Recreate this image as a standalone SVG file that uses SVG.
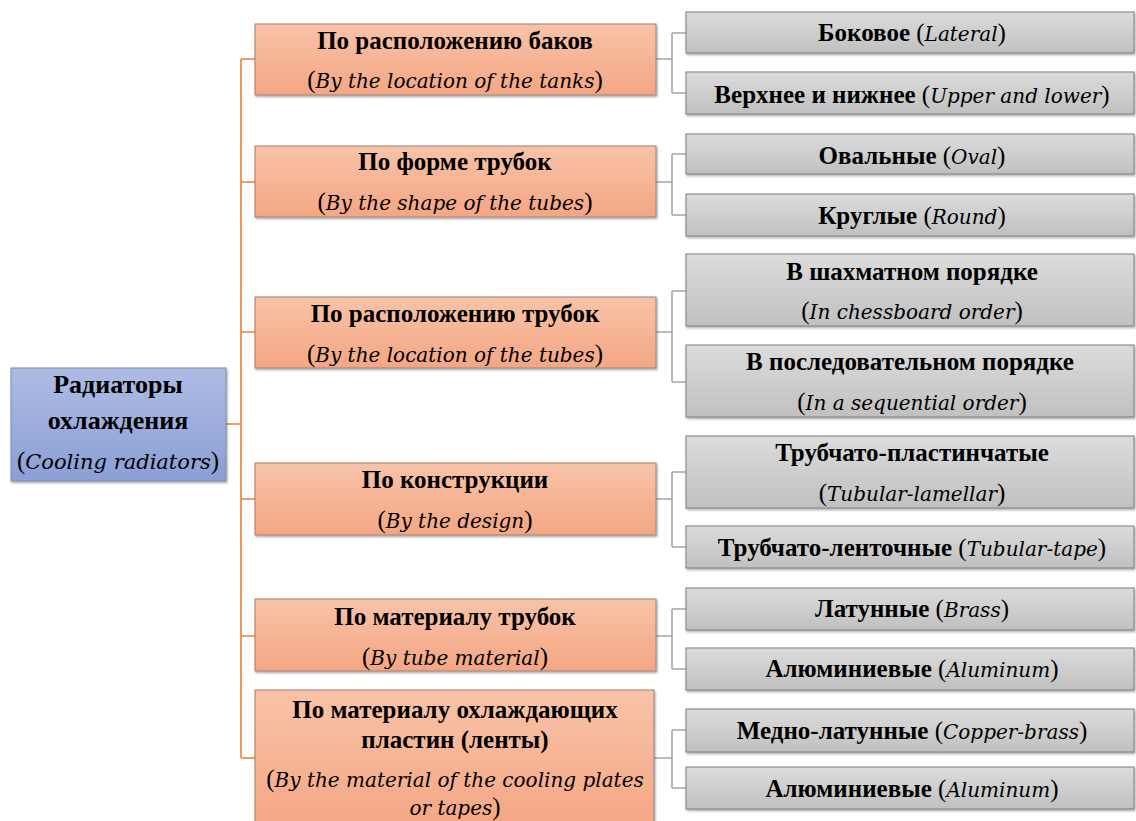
<svg xmlns="http://www.w3.org/2000/svg" width="1136" height="821" viewBox="0 0 1136 821">
<defs>
<linearGradient id="gBlue" x1="0" y1="0" x2="0" y2="1"><stop offset="0" stop-color="#aebce4"/><stop offset="1" stop-color="#8b9fd5"/></linearGradient>
<linearGradient id="gOr" x1="0" y1="0" x2="0" y2="1"><stop offset="0" stop-color="#f8c3a8"/><stop offset="1" stop-color="#f4a683"/></linearGradient>
<linearGradient id="gGr" x1="0" y1="0" x2="0" y2="1"><stop offset="0" stop-color="#dcdcdc"/><stop offset="1" stop-color="#c0c0c0"/></linearGradient>
<filter id="sh" x="-5%" y="-5%" width="110%" height="120%"><feDropShadow dx="1" dy="1.5" stdDeviation="1" flood-color="#000" flood-opacity="0.35"/></filter>
</defs>
<style>
text{font-family:"Liberation Serif","Times New Roman",serif;font-size:25px;fill:#000;text-anchor:middle}
.b{font-weight:bold}
.i{font-style:italic;font-family:"DejaVu Serif",serif;font-size:20px}
.root rect{fill:url(#gBlue);stroke:#7f8aa8;stroke-width:1;filter:url(#sh)}
.mid rect{fill:url(#gOr);stroke:#a08070;stroke-width:1;filter:url(#sh)}
.leaf rect{fill:url(#gGr);stroke:#7f7f7f;stroke-width:1;filter:url(#sh)}
.co{fill:none;stroke:#ed7d31;stroke-width:1.6}
.cg{fill:none;stroke:#a5a5a5;stroke-width:1.6}
</style>
<rect width="1136" height="821" fill="#fff"/>
<g id="connectors">
<path class="co" d="M226 424H241M241 59V758M241 59H255M241 182H255M241 332H255M241 499H255M241 636H255M241 758H255"/>
<path class="cg" d="M656 59H672M672 33V93M672 33H686M672 93H686"/>
<path class="cg" d="M656 182H672M672 154V215M672 154H686M672 215H686"/>
<path class="cg" d="M656 332H672M672 291V382M672 291H686M672 382H686"/>
<path class="cg" d="M656 499H672M672 472V547M672 472H686M672 547H686"/>
<path class="cg" d="M656 636H672M672 609V669M672 609H686M672 669H686"/>
<path class="cg" d="M654 758H672M672 730V788M672 730H686M672 788H686"/>
</g>
<g id="root" class="root"><rect x="11" y="368" width="215" height="113"/>
<text class="b" x="118" y="393" style="font-size:26px">Радиаторы</text>
<text class="b" x="118" y="429" style="font-size:26px">охлаждения</text>
<text x="118" y="469">(<tspan class="i" style="font-size:21px">Cooling radiators</tspan>)</text></g>
<g id="m1" class="mid"><rect x="255" y="24" width="401" height="71"/>
<text class="b" x="455" y="49">По расположению баков</text>
<text x="455" y="88">(<tspan class="i">By the location of the tanks</tspan>)</text></g>
<g id="m2" class="mid"><rect x="255" y="146" width="401" height="71"/>
<text class="b" x="455" y="170">По форме трубок</text>
<text x="455" y="210">(<tspan class="i">By the shape of the tubes</tspan>)</text></g>
<g id="m3" class="mid"><rect x="255" y="297" width="401" height="71"/>
<text class="b" x="455" y="322">По расположению трубок</text>
<text x="455" y="362">(<tspan class="i">By the location of the tubes</tspan>)</text></g>
<g id="m4" class="mid"><rect x="255" y="463" width="401" height="72"/>
<text class="b" x="455" y="488">По конструкции</text>
<text x="455" y="528">(<tspan class="i">By the design</tspan>)</text></g>
<g id="m5" class="mid"><rect x="255" y="599" width="401" height="72"/>
<text class="b" x="455" y="625">По материалу трубок</text>
<text x="455" y="665">(<tspan class="i">By tube material</tspan>)</text></g>
<g id="m6" class="mid"><rect x="255" y="690" width="399" height="140"/>
<text class="b" x="455" y="718">По материалу охлаждающих</text>
<text class="b" x="455" y="748">пластин (ленты)</text>
<text x="455" y="787">(<tspan class="i">By the material of the cooling plates</tspan></text>
<text x="455" y="815"><tspan class="i">or tapes</tspan>)</text></g>
<g id="r1a" class="leaf"><rect x="686" y="12" width="448" height="41"/>
<text x="912" y="41"><tspan class="b">Боковое</tspan> (<tspan class="i">Lateral</tspan>)</text></g>
<g id="r1b" class="leaf"><rect x="686" y="72" width="448" height="42"/>
<text x="912" y="103"><tspan class="b">Верхнее и нижнее</tspan> (<tspan class="i">Upper and lower</tspan>)</text></g>
<g id="r2a" class="leaf"><rect x="686" y="134" width="448" height="40"/>
<text x="912" y="164"><tspan class="b">Овальные</tspan> (<tspan class="i">Oval</tspan>)</text></g>
<g id="r2b" class="leaf"><rect x="686" y="194" width="448" height="42"/>
<text x="912" y="224"><tspan class="b">Круглые</tspan> (<tspan class="i">Round</tspan>)</text></g>
<g id="r3a" class="leaf"><rect x="686" y="254" width="448" height="72"/>
<text class="b" x="912" y="280">В шахматном порядке</text>
<text x="912" y="319">(<tspan class="i">In chessboard order</tspan>)</text></g>
<g id="r3b" class="leaf"><rect x="686" y="345" width="448" height="72"/>
<text class="b" x="910" y="370">В последовательном порядке</text>
<text x="912" y="410">(<tspan class="i">In a sequential order</tspan>)</text></g>
<g id="r4a" class="leaf"><rect x="686" y="436" width="448" height="72"/>
<text class="b" x="912" y="461">Трубчато-пластинчатые</text>
<text x="912" y="501">(<tspan class="i">Tubular-lamellar</tspan>)</text></g>
<g id="r4b" class="leaf"><rect x="686" y="526" width="448" height="42"/>
<text x="912" y="556"><tspan class="b">Трубчато-ленточные</tspan> (<tspan class="i">Tubular-tape</tspan>)</text></g>
<g id="r5a" class="leaf"><rect x="686" y="588" width="448" height="42"/>
<text x="912" y="617"><tspan class="b">Латунные</tspan> (<tspan class="i">Brass</tspan>)</text></g>
<g id="r5b" class="leaf"><rect x="686" y="648" width="448" height="42"/>
<text x="912" y="677"><tspan class="b">Алюминиевые</tspan> (<tspan class="i">Aluminum</tspan>)</text></g>
<g id="r6a" class="leaf"><rect x="686" y="709" width="448" height="43"/>
<text x="912" y="739"><tspan class="b">Медно-латунные</tspan> (<tspan class="i">Copper-brass</tspan>)</text></g>
<g id="r6b" class="leaf"><rect x="686" y="767" width="448" height="42"/>
<text x="912" y="797"><tspan class="b">Алюминиевые</tspan> (<tspan class="i">Aluminum</tspan>)</text></g>
</svg>
